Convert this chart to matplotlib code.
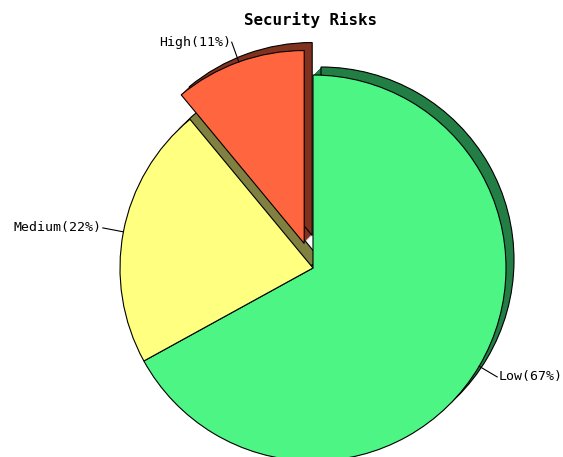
import matplotlib
matplotlib.use("Agg")
import matplotlib.pyplot as plt
import numpy as np

# Daten
labels = ["Low", "Medium", "High"]
values = [67, 22, 11]
face_colors = ["#4cf584", "#ffff80", "#ff6640"]
shadow_colors = ["#227e44", "#808040", "#80321e"]
title = "Security Risks"

W, H = 563, 457
fig = plt.figure(figsize=(W / 100, H / 100), dpi=100)
ax = fig.add_axes([0, 0, 1, 1])

cx, cy = 313, H - 268     # Mittelpunkt in Pixeln
R = 193
explode = [0, 0, 26]
depth = 8                 # Tiefe des 3D-Schattens

# Schatten als Extrusion nach rechts oben
for k in range(1, depth + 1):
    ax.pie(values, colors=shadow_colors, startangle=90, counterclock=False,
           radius=R, center=(cx + k, cy + k), explode=explode,
           wedgeprops=dict(linewidth=0.8 if k == depth else 0, edgecolor="black"))

wedges, _ = ax.pie(values, colors=face_colors, startangle=90, counterclock=False,
                   radius=R, center=(cx, cy), explode=explode,
                   wedgeprops=dict(linewidth=0.8, edgecolor="black"))

total = sum(values)
for w, lab, v in zip(wedges, labels, values):
    ang = np.deg2rad((w.theta1 + w.theta2) / 2)
    x0 = w.center[0] + R * np.cos(ang)
    y0 = w.center[1] + R * np.sin(ang)
    x1 = w.center[0] + (R + 21) * np.cos(ang)
    y1 = w.center[1] + (R + 21) * np.sin(ang)
    ax.plot([x0, x1], [y0, y1], color="black", lw=0.8)
    if np.cos(ang) > 0:
        ax.text(x1 + 1, y1, f"{lab}({round(100 * v / total)}%)", ha="left", va="center",
                family="DejaVu Sans Mono", fontsize=9.5)
    else:
        ax.text(x1 - 1, y1, f"{lab}({round(100 * v / total)}%)", ha="right", va="center",
                family="DejaVu Sans Mono", fontsize=9.5)

ax.text(cx - 2, H - 20, title, ha="center", va="center", fontweight="bold",
        family="DejaVu Sans Mono", fontsize=11.4)

ax.set_aspect("equal")
ax.set_xlim(0, W)
ax.set_ylim(0, H)
ax.axis("off")

plt.savefig("out.png", dpi=100)
